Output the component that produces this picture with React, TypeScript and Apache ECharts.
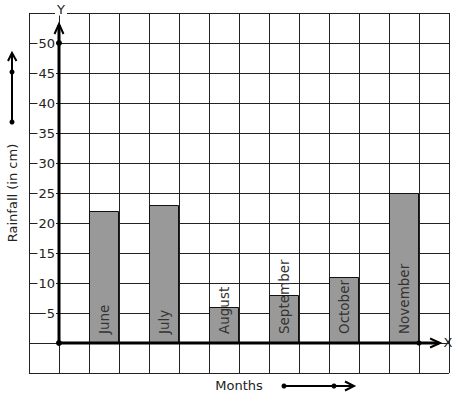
import React, { useEffect, useRef } from "react";
import * as echarts from "echarts";

const months = ["June", "July", "August", "September", "October", "November"];
const rainfall = [22, 23, 6, 8, 11, 25];
const yTickLabels = [5, 10, 15, 20, 25, 30, 35, 40, 45, 50];
const yAxisTitle = "Rainfall (in cm)";
const xAxisTitle = "Months";

const FONT = "DejaVu Sans";

export default function App() {
  const ref = useRef<HTMLDivElement>(null);
  useEffect(() => {
    document.body.style.margin = "0";
    const chart = echarts.init(ref.current!, undefined, { renderer: "svg" });
    const barData = rainfall.map((v, i) => [1.5 + 2 * i, v]);
    chart.setOption({
      animation: false,
      grid: { left: 29, top: 13, width: 420, height: 360, containLabel: false },
      xAxis: {
        type: "value",
        min: -1,
        max: 13,
        interval: 1,
        axisLine: { show: false },
        axisTick: { show: false },
        axisLabel: { show: false },
        splitLine: { show: true, lineStyle: { color: "#222", width: 1 } },
      },
      yAxis: {
        type: "value",
        min: -5,
        max: 55,
        interval: 5,
        axisLine: { show: false },
        axisTick: { show: false },
        axisLabel: {
          show: true,
          margin: -27,
          fontFamily: FONT,
          fontSize: 13,
          color: "#222",
          backgroundColor: "#fff",
          padding: [0, 1, 0, 1],
          formatter: (v: number) => (yTickLabels.indexOf(v) >= 0 ? String(v) : ""),
        },
        splitLine: { show: true, lineStyle: { color: "#222", width: 1 } },
      },
      series: [
        {
          type: "bar",
          data: barData,
          barWidth: 30,
          itemStyle: { color: "#999999", borderColor: "#111", borderWidth: 1 },
          label: {
            show: true,
            position: "insideBottom",
            rotate: 90,
            align: "left",
            verticalAlign: "middle",
            distance: 9,
            fontFamily: FONT,
            fontSize: 13.5,
            color: "#333",
            formatter: (p: any) => months[p.dataIndex],
          },
          z: 3,
        },
      ],
    });

    const px = (x: number, y: number) =>
      chart.convertToPixel({ gridIndex: 0 }, [x, y]) as number[];
    const o = px(0, 0);
    const yTop = px(0, 53);
    const y50 = px(0, 50);
    const xEnd = px(12.67, 0);
    const xDot = px(12, 0);
    const blk = "#000";
    const lineW = 3;

    chart.setOption({
      graphic: [
        // Y axis
        { type: "line", shape: { x1: o[0], y1: o[1], x2: yTop[0], y2: yTop[1] }, style: { stroke: blk, lineWidth: lineW }, z: 10 },
        { type: "polyline", shape: { points: [[yTop[0] - 4.5, yTop[1] + 9], [yTop[0], yTop[1] - 1], [yTop[0] + 4.5, yTop[1] + 9]] }, style: { stroke: blk, lineWidth: 2, fill: "none" }, z: 10 },
        { type: "circle", shape: { cx: y50[0], cy: y50[1], r: 3 }, style: { fill: blk }, z: 11 },
        // X axis
        { type: "line", shape: { x1: o[0], y1: o[1], x2: xEnd[0], y2: xEnd[1] }, style: { stroke: blk, lineWidth: lineW }, z: 10 },
        { type: "polyline", shape: { points: [[xEnd[0] - 9, xEnd[1] - 4.5], [xEnd[0] + 1, xEnd[1]], [xEnd[0] - 9, xEnd[1] + 4.5]] }, style: { stroke: blk, lineWidth: 2, fill: "none" }, z: 10 },
        { type: "circle", shape: { cx: xDot[0], cy: xDot[1], r: 2.5 }, style: { fill: blk }, z: 11 },
        { type: "circle", shape: { cx: o[0], cy: o[1], r: 3 }, style: { fill: blk }, z: 11 },
        // axis letters
        { type: "text", x: o[0] + 2, y: 9, style: { text: "Y", fontFamily: FONT, fontSize: 13, fill: "#222", align: "center", verticalAlign: "middle", backgroundColor: "#fff", padding: [0, 2, 0, 2] }, z: 12 },
        { type: "text", x: 448, y: o[1] - 1, style: { text: "X", fontFamily: FONT, fontSize: 13, fill: "#222", align: "center", verticalAlign: "middle" }, z: 12 },
        // left decoration arrow
        { type: "line", shape: { x1: 12, y1: 122, x2: 12, y2: 54 }, style: { stroke: blk, lineWidth: 2 }, z: 10 },
        { type: "polyline", shape: { points: [[8, 61], [12, 53], [16.5, 61]] }, style: { stroke: blk, lineWidth: 2, fill: "none" }, z: 10 },
        { type: "circle", shape: { cx: 12, cy: 72, r: 2.5 }, style: { fill: blk }, z: 11 },
        { type: "circle", shape: { cx: 12, cy: 122, r: 2.5 }, style: { fill: blk }, z: 11 },
        // y axis title
        { type: "text", x: 12, y: 193, rotation: Math.PI / 2, style: { text: yAxisTitle, fontFamily: FONT, fontSize: 13, fill: "#222", align: "center", verticalAlign: "middle" }, z: 12 },
        // x axis title
        { type: "text", x: 239, y: 385, style: { text: xAxisTitle, fontFamily: FONT, fontSize: 13, fill: "#222", align: "center", verticalAlign: "middle" }, z: 12 },
        // bottom decoration arrow
        { type: "line", shape: { x1: 284, y1: 386, x2: 353, y2: 386 }, style: { stroke: blk, lineWidth: 2 }, z: 10 },
        { type: "polyline", shape: { points: [[345, 381.5], [354, 386], [345, 390.5]] }, style: { stroke: blk, lineWidth: 2, fill: "none" }, z: 10 },
        { type: "circle", shape: { cx: 284, cy: 386, r: 2.5 }, style: { fill: blk }, z: 11 },
        { type: "circle", shape: { cx: 334, cy: 386, r: 2.5 }, style: { fill: blk }, z: 11 },
      ],
    });
    return () => chart.dispose();
  }, []);
  return <div ref={ref} style={{ width: 457, height: 399, position: "absolute", left: 0, top: 0, background: "#fff" }} />;
}
